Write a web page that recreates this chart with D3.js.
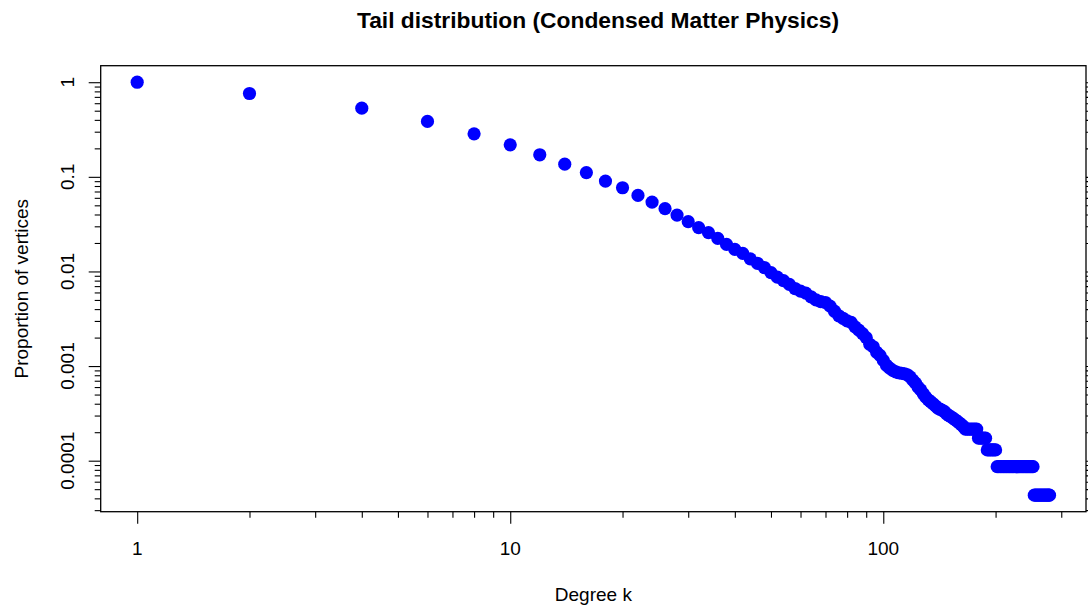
<!DOCTYPE html>
<html>
<head>
<meta charset="utf-8">
<script src="https://cdn.jsdelivr.net/npm/d3@7"></script>
<style>
  html, body { margin: 0; padding: 0; background: #fff; }
  svg { display: block; }
  text { font-family: "Liberation Sans", Arial, Helvetica, sans-serif; fill: #000; }
</style>
</head>
<body>
<svg id="chart" width="1088" height="606"></svg>
<script>
// ---- data ----
const title = "Tail distribution (Condensed Matter Physics)";
const xLabel = "Degree k";
const yLabel = "Proportion of vertices";

const degrees = [1, 2, 4, 6, 8, 10, 12, 14, 16, 18, 20, 22, 24, 26, 28, 30, 32, 34, 36, 38,
  40, 42, 44, 46, 48, 50, 52, 54, 56, 58, 60, 62, 64, 66, 68, 70, 72, 74, 76, 78,
  80, 82, 84, 86, 88, 90, 92, 94, 96, 98, 100, 102, 104, 106, 108, 110, 112, 114, 116, 118,
  120, 122, 124, 126, 128, 130, 132, 134, 136, 138, 140, 142, 144, 146, 148, 150, 152, 154, 156, 158,
  160, 162, 164, 166, 168, 170, 172, 174, 176, 178, 180, 182, 184, 186, 188, 190, 192, 194, 196, 198,
  200, 202, 204, 206, 208, 210, 212, 214, 216, 218, 220, 222, 224, 226, 228, 230, 232, 234, 236, 238,
  240, 242, 244, 246, 248, 250, 252, 254, 256, 258, 260, 262, 264, 266, 268, 270, 272, 274, 276, 278, 279];

const tailProportion = [1, 0.76, 0.532, 0.385, 0.285, 0.218, 0.171, 0.136, 0.111, 0.0901,
  0.0767, 0.0636, 0.0541, 0.0461, 0.0394, 0.0336, 0.0290, 0.0257, 0.0224, 0.0193,
  0.0171, 0.0155, 0.0136, 0.0122, 0.0110, 0.0097, 0.0087, 0.0080, 0.0073, 0.0066,
  0.0062, 0.0059, 0.0054, 0.0050, 0.0048, 0.0047, 0.0043, 0.0038, 0.0034, 0.0032,
  0.0030, 0.0029, 0.0026, 0.0024, 0.0022, 0.0020, 0.0017, 0.0016, 0.0014, 0.0013,
  0.00115, 0.00102, 0.00095, 0.00090, 0.00087, 0.00085, 0.00084, 0.00083, 0.00081, 0.00077,
  0.00071, 0.00066, 0.00060, 0.00056, 0.00051, 0.00047, 0.00044, 0.00042, 0.00040, 0.00038,
  0.00036, 0.00035, 0.00034, 0.00033, 0.00031, 0.00030, 0.00029, 0.00028, 0.00027, 0.00026,
  0.00025, 0.00024, 0.00023, 0.000216, 0.000216, 0.000216, 0.000216, 0.000216, 0.000216, 0.000216,
  0.000173, 0.000173, 0.000173, 0.000173, 0.000173, 0.00013, 0.00013, 0.00013, 0.00013, 0.00013,
  0.00013, 0.0000865, 0.0000865, 0.0000865, 0.0000865, 0.0000865, 0.0000865, 0.0000865, 0.0000865, 0.0000865,
  0.0000865, 0.0000865, 0.0000865, 0.0000865, 0.0000865, 0.0000865, 0.0000865, 0.0000865, 0.0000865, 0.0000865,
  0.0000865, 0.0000865, 0.0000865, 0.0000865, 0.0000865, 0.0000865, 0.0000865,
  0.0000432, 0.0000432, 0.0000432, 0.0000432, 0.0000432, 0.0000432, 0.0000432, 0.0000432, 0.0000432, 0.0000432,
  0.0000432, 0.0000432, 0.0000432, 0.0000432];

const xMajorTicks = [1, 10, 100];
const xTickLabels = ["1", "10", "100"];
const xMinorTicks = [2, 3, 4, 5, 6, 7, 8, 9, 20, 30, 40, 50, 60, 70, 80, 90, 200, 300];
const yMajorTicks = [1, 0.1, 0.01, 0.001, 0.0001];
const yTickLabels = ["1", "0.1", "0.01", "0.001", "0.0001"];
const yMinorTicks = [0.9, 0.8, 0.7, 0.6, 0.5, 0.4, 0.3, 0.2,
  0.09, 0.08, 0.07, 0.06, 0.05, 0.04, 0.03, 0.02,
  0.009, 0.008, 0.007, 0.006, 0.005, 0.004, 0.003, 0.002,
  0.0009, 0.0008, 0.0007, 0.0006, 0.0005, 0.0004, 0.0003, 0.0002,
  0.00009, 0.00008, 0.00007, 0.00006, 0.00005, 0.00004, 0.00003];

// ---- layout ----
const W = 1088, H = 606;
const plot = { left: 100.7, right: 1086, top: 65.7, bottom: 511.7 };
const fontSize = 19;

const svg = d3.select("#chart");

// R style 4% extension of the log data range
const lx = d3.extent(degrees).map(Math.log10);
const ly = d3.extent(tailProportion).map(Math.log10);
const ex = (lx[1] - lx[0]) * 0.04, ey = (ly[1] - ly[0]) * 0.04;

const x = d3.scaleLog()
  .domain([Math.pow(10, lx[0] - ex), Math.pow(10, lx[1] + ex)])
  .range([plot.left, plot.right]);
const y = d3.scaleLog()
  .domain([Math.pow(10, ly[0] - ey), Math.pow(10, ly[1] + ey)])
  .range([plot.bottom, plot.top]);

const data = degrees.map((d, i) => ({ k: d, p: tailProportion[i] }));

// points
svg.append("g")
  .selectAll("circle")
  .data(data)
  .join("circle")
  .attr("cx", d => x(d.k))
  .attr("cy", d => y(d.p))
  .attr("r", 6.6)
  .attr("fill", "#0000ff");

// axes
function styleAxis(g) {
  g.select(".domain").remove();
  g.selectAll("line").attr("stroke", "#000").attr("stroke-width", 1.1);
}

// bottom major
svg.append("g")
  .attr("transform", `translate(0,${plot.bottom})`)
  .call(d3.axisBottom(x).tickValues(xMajorTicks).tickSize(12).tickFormat(""))
  .call(styleAxis);
// bottom minor
svg.append("g")
  .attr("transform", `translate(0,${plot.bottom})`)
  .call(d3.axisBottom(x).tickValues(xMinorTicks).tickSize(6).tickFormat(""))
  .call(styleAxis);
// x tick labels
svg.append("g").selectAll("text")
  .data(xMajorTicks)
  .join("text")
  .attr("x", d => x(d))
  .attr("y", 548)
  .attr("dy", "0.35em")
  .attr("text-anchor", "middle")
  .attr("font-size", fontSize)
  .text((d, i) => xTickLabels[i]);

// left major / minor
svg.append("g")
  .attr("transform", `translate(${plot.left},0)`)
  .call(d3.axisLeft(y).tickValues(yMajorTicks).tickSize(12).tickFormat(""))
  .call(styleAxis);
svg.append("g")
  .attr("transform", `translate(${plot.left},0)`)
  .call(d3.axisLeft(y).tickValues(yMinorTicks).tickSize(6).tickFormat(""))
  .call(styleAxis);
// right major / minor
svg.append("g")
  .attr("transform", `translate(${plot.right},0)`)
  .call(d3.axisRight(y).tickValues(yMajorTicks).tickSize(12).tickFormat(""))
  .call(styleAxis);
svg.append("g")
  .attr("transform", `translate(${plot.right},0)`)
  .call(d3.axisRight(y).tickValues(yMinorTicks).tickSize(6).tickFormat(""))
  .call(styleAxis);

// y tick labels (rotated)
svg.append("g").selectAll("text")
  .data(yMajorTicks)
  .join("text")
  .attr("transform", d => `translate(67,${y(d)}) rotate(-90)`)
  .attr("dy", "0.35em")
  .attr("text-anchor", "middle")
  .attr("font-size", fontSize)
  .text((d, i) => yTickLabels[i]);

// box
svg.append("rect")
  .attr("x", plot.left).attr("y", plot.top)
  .attr("width", plot.right - plot.left).attr("height", plot.bottom - plot.top)
  .attr("fill", "none").attr("stroke", "#000").attr("stroke-width", 1.3);

// titles
svg.append("text")
  .attr("x", 598).attr("y", 20)
  .attr("dy", "0.35em")
  .attr("text-anchor", "middle")
  .attr("font-size", 22.8)
  .attr("font-weight", "bold")
  .text(title);

svg.append("text")
  .attr("x", (plot.left + plot.right) / 2).attr("y", 594)
  .attr("dy", "0.35em")
  .attr("text-anchor", "middle")
  .attr("font-size", fontSize)
  .text(xLabel);

svg.append("text")
  .attr("transform", `translate(21,${(plot.top + plot.bottom) / 2}) rotate(-90)`)
  .attr("dy", "0.35em")
  .attr("text-anchor", "middle")
  .attr("font-size", fontSize)
  .text(yLabel);
</script>
</body>
</html>
